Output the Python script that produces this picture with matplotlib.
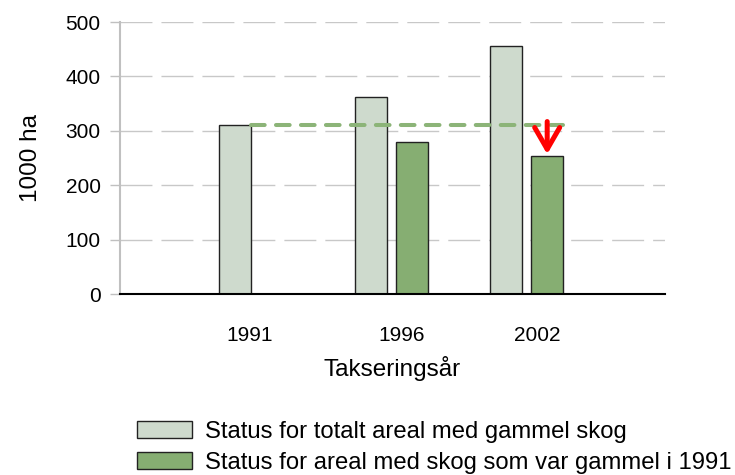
import numpy as np
import matplotlib
matplotlib.use('Agg')
import matplotlib.pyplot as plt

# Data
years = ['1991', '1996', '2002']
total_old = [310, 363, 455]            # Status for totalt areal med gammel skog
old_in_1991 = [np.nan, 279, 253]       # Status for areal med skog som var gammel i 1991
legend_labels = ['Status for totalt areal med gammel skog',
                 'Status for areal med skog som var gammel i 1991']
y_ticks = [0, 100, 200, 300, 400, 500]

LIGHT = '#cedacd'
DARK = '#86ae72'
LINE = '#8cb478'

plt.rcParams['font.family'] = ['Liberation Sans', 'DejaVu Sans']

fig = plt.figure(figsize=(7.35, 4.75), dpi=100)
ax = fig.add_axes([120 / 735, 1 - 294 / 475, 545 / 735, 272 / 475])

x = np.arange(len(years))
width = 0.236
off = 0.151

b1 = ax.bar(x - off, total_old, width, color=LIGHT, edgecolor='#222222',
            linewidth=1, zorder=3, label=legend_labels[0])
mask = ~np.isnan(old_in_1991)
b2 = ax.bar(x[mask] + off, np.array(old_in_1991)[mask], width, color=DARK,
            edgecolor='#222222', linewidth=1, zorder=3, label=legend_labels[1])

# reference line at 1991 level
x0 = x[0] - off + width / 2
x1 = x[-1] + off + width / 2
ln, = ax.plot([x0, x1], [total_old[0], total_old[0]], color=LINE, lw=2.9,
              solid_capstyle='round', dash_capstyle='round', zorder=4)
ln.set_dashes((3.4, 2.8))

# red arrow showing the decline
ax.annotate('', xy=(x[-1] + off, old_in_1991[-1] + 4),
            xytext=(x[-1] + off, total_old[0] + 7),
            arrowprops=dict(arrowstyle='->,head_length=0.78,head_width=0.45',
                            color='red', lw=3.6, shrinkA=0, shrinkB=0,
                            mutation_scale=20),
            zorder=5)

ax.set_xlim(-1.0, 3.02)
ax.set_ylim(0, 500)
ax.set_yticks(y_ticks)
# labels sit a little right of the group centre, 1991 (one bar) a bit left
ax.set_xticks(np.where(mask, x + 0.08, x - 0.045))
ax.set_xticklabels(years)

ax.yaxis.grid(True, color='#c8c8c8', linewidth=1, linestyle=(0, (23, 6.5)), zorder=0)
ax.set_axisbelow(True)

for s in ['top', 'right']:
    ax.spines[s].set_visible(False)
ax.spines['left'].set_color('#c0c0c0')
ax.spines['left'].set_linewidth(1.5)
ax.spines['bottom'].set_color('black')
ax.spines['bottom'].set_linewidth(1.5)
ax.spines['bottom'].set_zorder(6)

ax.tick_params(axis='y', length=7, width=1, color='#c0c0c0', pad=7, labelsize=15)
ax.tick_params(axis='x', length=0, pad=23, labelsize=15)

ax.set_ylabel('1000 ha', fontsize=17.5, labelpad=17)
ax.set_xlabel('Takseringsår', fontsize=17.5, labelpad=8)

fig.legend(handles=[b1, b2], labels=legend_labels, loc='upper left',
           bbox_to_anchor=(137 / 735, 1 - 421 / 475), frameon=False,
           fontsize=17.2, handlelength=2.3, handleheight=0.71,
           handletextpad=0.54, labelspacing=0.37, borderpad=0, borderaxespad=0)

fig.savefig('out.png', dpi=100)
